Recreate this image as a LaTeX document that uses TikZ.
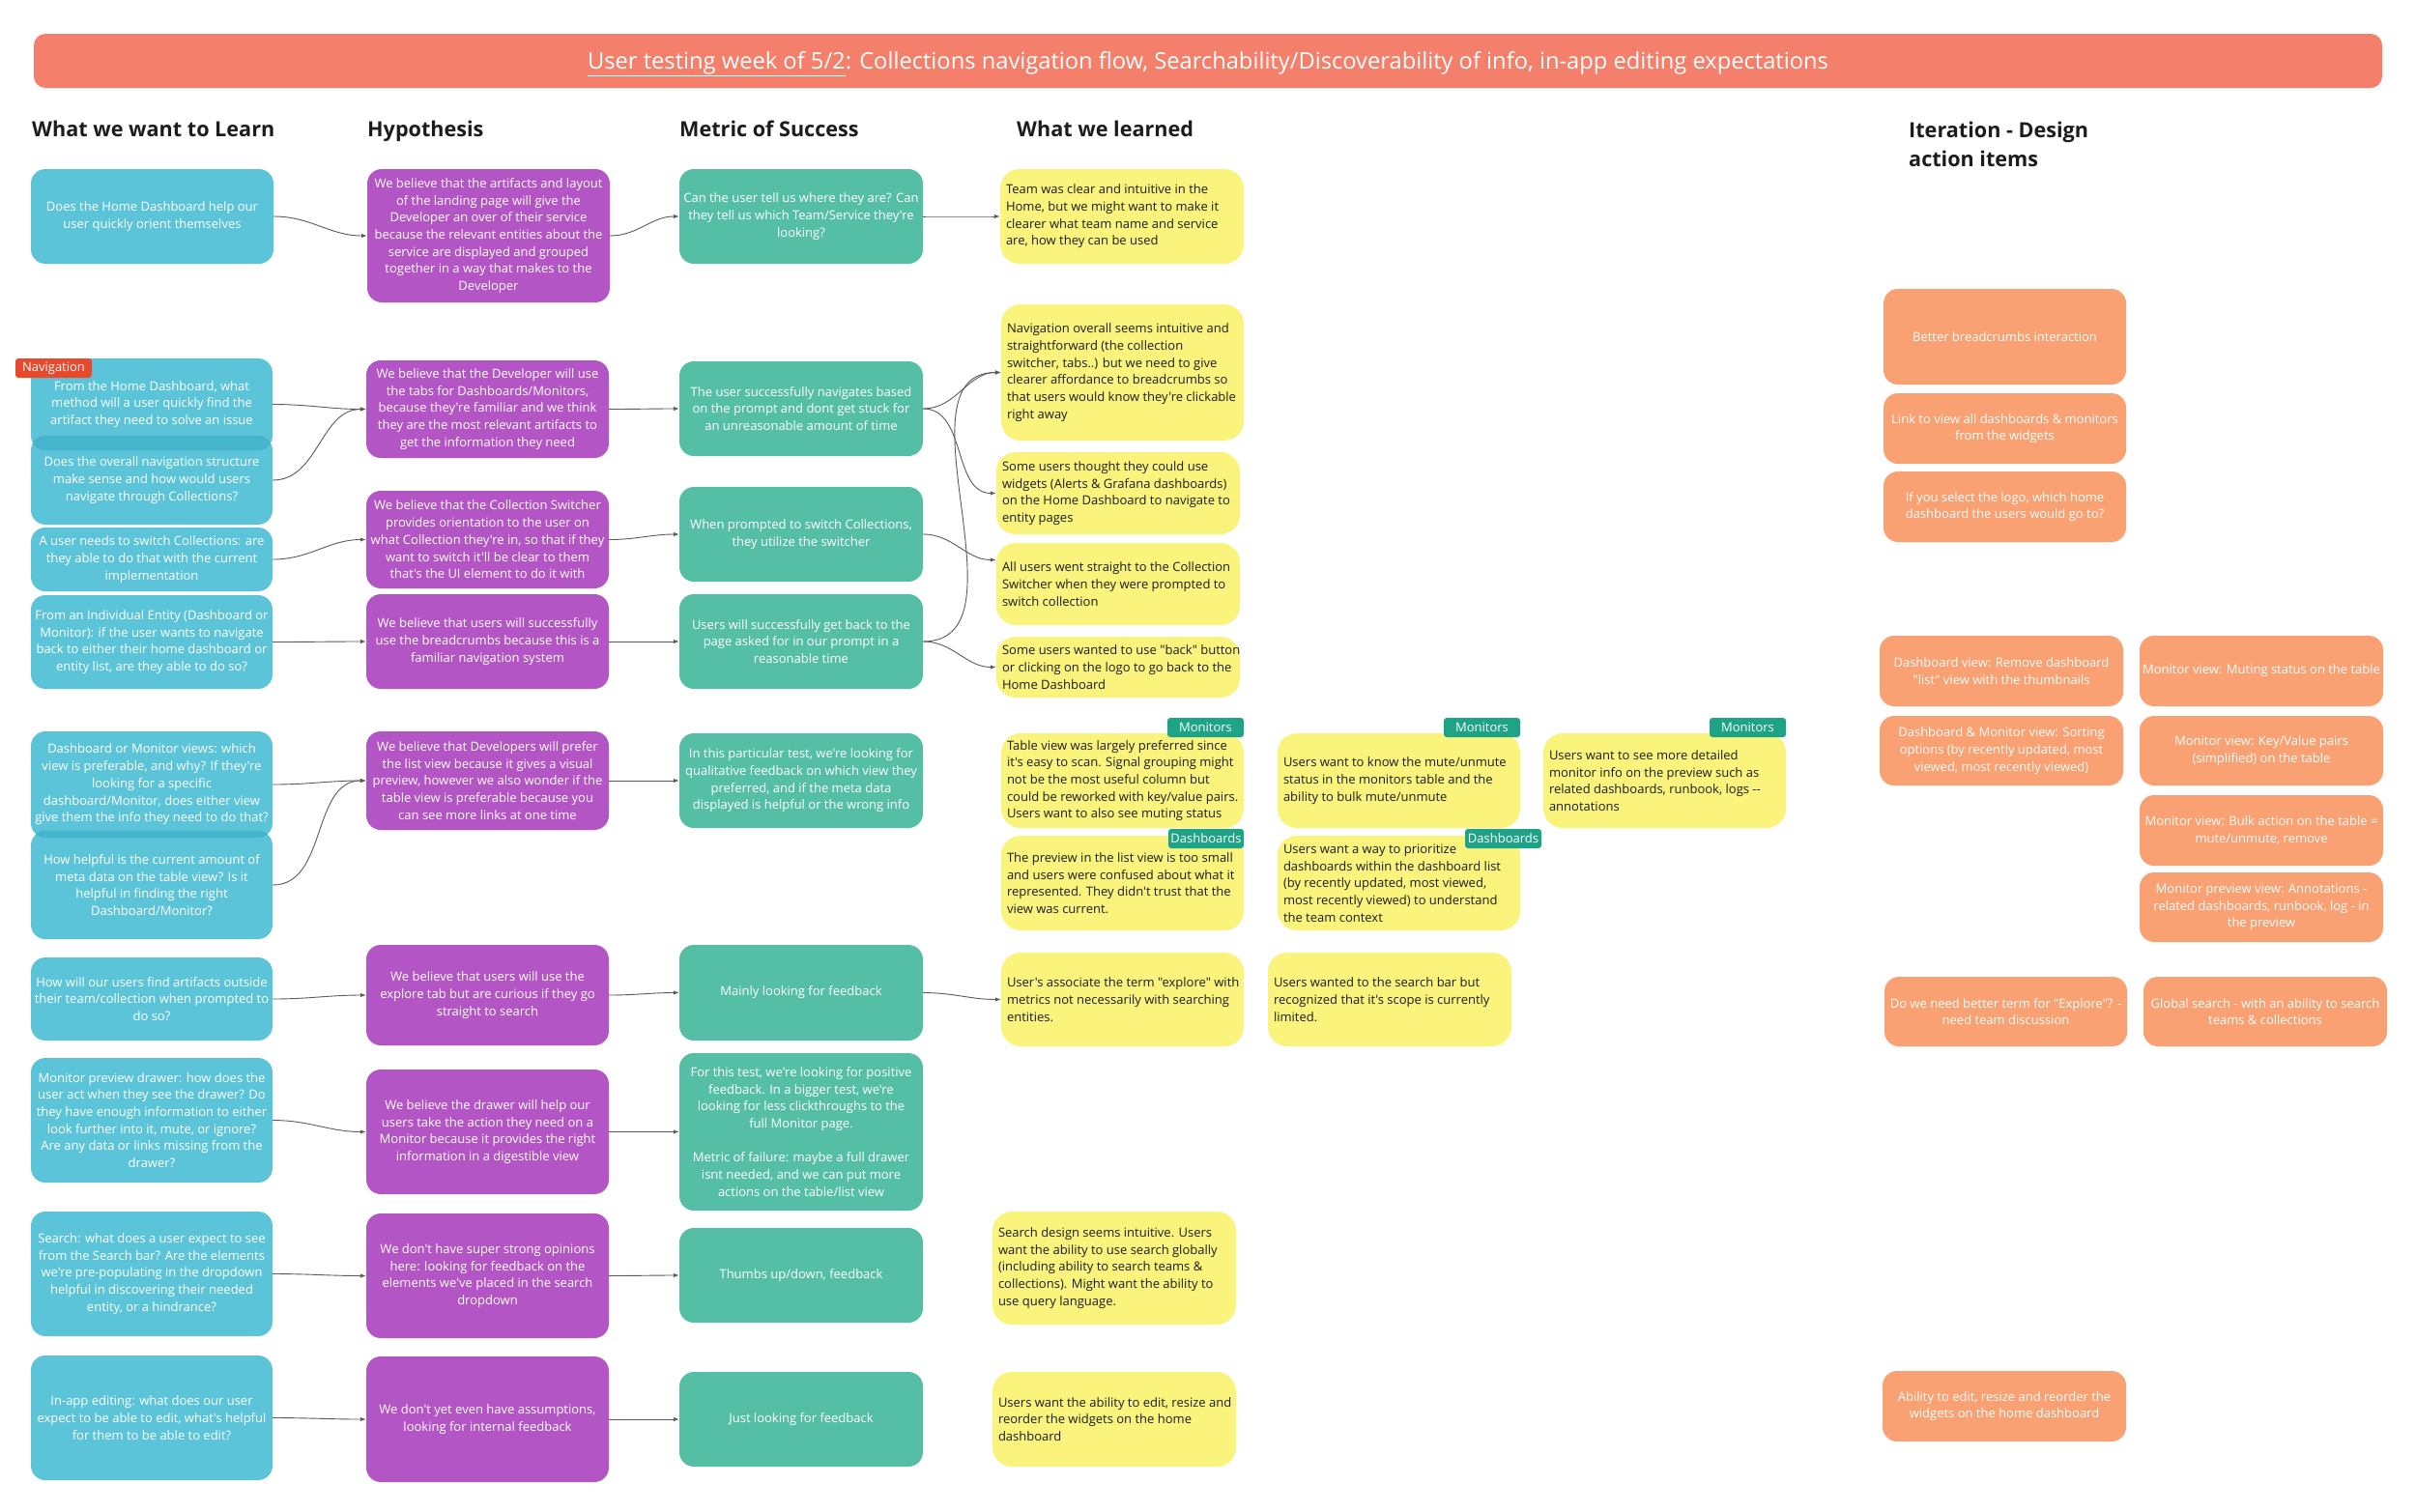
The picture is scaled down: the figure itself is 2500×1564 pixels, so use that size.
\documentclass[tikz,border=0pt]{standalone}
\usepackage{fontspec}
\setmainfont{Open Sans}[Ligatures=TeXOff]
\usetikzlibrary{arrows.meta}
\definecolor{cy}{HTML}{5CC4D9}
\definecolor{cyd}{HTML}{45B5CE}
\definecolor{pu}{HTML}{B455C5}
\definecolor{te}{HTML}{55BFA6}
\definecolor{ye}{HTML}{FAF47C}
\definecolor{orgc}{HTML}{F9A172}
\definecolor{hd}{HTML}{F47F6A}
\definecolor{navc}{HTML}{E8492C}
\definecolor{tg}{HTML}{1FA386}
\definecolor{ln}{HTML}{5A5A5A}
\definecolor{tx}{HTML}{1C1C1C}
\newcommand\bfs{\fontsize{13}{17.7}\selectfont}
% centred box: name, box style, x1, y1, x2, y2, text
\newcommand\bx[7]{%
 \pgfmathsetmacro\bw{#5-#3}\pgfmathsetmacro\bh{#6-#4}%
 \pgfmathsetmacro\bcx{(#3+#5)/2}\pgfmathsetmacro\bcy{(#4+#6)/2}%
 \node[#2, minimum width=\bw pt, minimum height=\bh pt] (#1) at (\bcx,\bcy) {};%
 \node[wt] (#1-t) at (#1.center) {#7};}
% left-aligned (yellow) box
\newcommand\by[6]{%
 \pgfmathsetmacro\bw{#4-#2}\pgfmathsetmacro\bh{#5-#3}%
 \pgfmathsetmacro\bcx{(#2+#4)/2}\pgfmathsetmacro\bcy{(#3+#5)/2}%
 \node[yeb, minimum width=\bw pt, minimum height=\bh pt] (#1) at (\bcx,\bcy) {};%
 \node[dt, anchor=west] (#1-t) at ([xshift=6pt]#1.west) {#6};}
\tikzset{
 box/.style={rectangle, rounded corners=15pt, inner sep=0pt},
 cyb/.style={box, fill=cy},
 pub/.style={box, fill=pu},
 teb/.style={box, fill=te},
 yeb/.style={box, fill=ye, rounded corners=20pt},
 orb/.style={box, fill=orgc},
 tagb/.style={rectangle, rounded corners=3pt, fill=tg, inner sep=0pt},
 navb/.style={rectangle, rounded corners=3pt, fill=navc, inner sep=0pt},
 wt/.style={text=white, font=\bfs, align=center, inner sep=0pt},
 dt/.style={text=tx, font=\bfs, align=left, inner sep=0pt},
 conn/.style={draw=ln, line width=0.9pt, -{Latex[length=6pt,width=4.5pt]}},
 hdr/.style={font=\fontsize{21.6}{29}\selectfont\bfseries, text=tx, anchor=base west, inner sep=0pt}
}
\begin{document}
\begin{tikzpicture}[x=1pt,y=-1pt]
\useasboundingbox (0,0) rectangle (2500,1564);
\fill[white] (0,0) rectangle (2500,1564);
% title bar
\node[box, fill=hd, rounded corners=12pt, minimum width=2430pt, minimum height=56pt] (title) at (1250,63) {};
\node[text=white, font=\fontsize{23.7}{28}\selectfont, anchor=base, inner sep=0pt] (title-t) at (1250,71)
 {\underline{User testing week of 5/2}: Collections navigation flow, Searchability/Discoverability of info, in-app editing expectations};
% column headers
\node[hdr] (h1) at (33,141) {What we want to Learn};
\node[hdr] (h2) at (380,141) {Hypothesis};
\node[hdr] (h3) at (703,141) {Metric of Success};
\node[hdr] (h4) at (1052,141) {What we learned};
\node[hdr] (h5a) at (1975,142) {Iteration - Design};
\node[hdr] (h5b) at (1975,172) {action items};

% ---- row 1
\bx{c1}{cyb}{32}{175}{283}{273}{Does the Home Dashboard help our\\user quickly orient themselves}
\bx{p1}{pub}{380}{175}{631}{313}{We believe that the artifacts and layout\\of the landing page will give the\\Developer an over of their service\\because the relevant entities about the\\service are displayed and grouped\\together in a way that makes to the\\Developer}
\bx{t1}{teb}{703}{175}{955}{273}{Can the user tell us where they are? Can\\they tell us which Team/Service they're\\looking?}
\by{y1}{1035}{175}{1287}{273}{Team was clear and intuitive in the\\Home, but we might want to make it\\clearer what team name and service\\are, how they can be used}

% ---- navigation rows
\bx{c2}{cyb}{32}{371}{282}{466}{From the Home Dashboard, what\\method will a user quickly find the\\artifact they need to solve an issue}
\bx{c3}{cyb}{32}{451}{282}{543}{Does the overall navigation structure\\make sense and how would users\\navigate through Collections?}
\begin{scope}
\clip[rounded corners=15pt] (c2.north west) rectangle (c2.south east);
\fill[cyd, rounded corners=15pt] (c3.north west) rectangle (c3.south east);
\end{scope}
\bx{c4}{cyb}{32}{546}{282}{612}{A user needs to switch Collections: are\\they able to do that with the current\\implementation}
\bx{c5}{cyb}{32}{616}{282}{713}{From an Individual Entity (Dashboard or\\Monitor): if the user wants to navigate\\back to either their home dashboard or\\entity list, are they able to do so?}
\bx{nav}{navb}{16}{371}{95}{391}{Navigation}
\bx{p2}{pub}{379}{373}{630}{474}{We believe that the Developer will use\\the tabs for Dashboards/Monitors,\\because they're familiar and we think\\they are the most relevant artifacts to\\get the information they need}
\bx{p3}{pub}{379}{508}{630}{609}{We believe that the Collection Switcher\\provides orientation to the user on\\what Collection they're in, so that if they\\want to switch it'll be clear to them\\that's the UI element to do it with}
\bx{p4}{pub}{379}{615}{630}{713}{We believe that users will successfully\\use the breadcrumbs because this is a\\familiar navigation system}
\bx{t2}{teb}{703}{374}{955}{472}{The user successfully navigates based\\on the prompt and dont get stuck for\\an unreasonable amount of time}
\bx{t3}{teb}{703}{504}{955}{602}{When prompted to switch Collections,\\they utilize the switcher}
\bx{t4}{teb}{703}{615}{955}{713}{Users will successfully get back to the\\page asked for in our prompt in a\\reasonable time}
\by{y2}{1036}{315}{1287}{456}{Navigation overall seems intuitive and\\straightforward (the collection\\switcher, tabs..) but we need to give\\clearer affordance to breadcrumbs so\\that users would know they're clickable\\right away}
\by{y3}{1031}{468}{1283}{553}{Some users thought they could use\\widgets (Alerts \& Grafana dashboards)\\on the Home Dashboard to navigate to\\entity pages}
\by{y4}{1031}{562}{1283}{647}{All users went straight to the Collection\\Switcher when they were prompted to\\switch collection}
\by{y5}{1031}{659}{1283}{722}{Some users wanted to use "back" button\\or clicking on the logo to go back to the\\Home Dashboard}

% ---- views rows
\bx{c6}{cyb}{32}{757}{282}{867}{Dashboard or Monitor views: which\\view is preferable, and why? If they're\\looking for a specific\\dashboard/Monitor, does either view\\give them the info they need to do that?}
\bx{c7}{cyb}{32}{860}{282}{972}{How helpful is the current amount of\\meta data on the table view? Is it\\helpful in finding the right\\Dashboard/Monitor?}
\begin{scope}
\clip[rounded corners=15pt] (c6.north west) rectangle (c6.south east);
\fill[cyd, rounded corners=15pt] (c7.north west) rectangle (c7.south east);
\end{scope}
\bx{p5}{pub}{379}{757}{630}{859}{We believe that Developers will prefer\\the list view because it gives a visual\\preview, however we also wonder if the\\table view is preferable because you\\can see more links at one time}
\bx{t5}{teb}{703}{759}{955}{857}{In this particular test, we're looking for\\qualitative feedback on which view they\\preferred, and if the meta data\\displayed is helpful or the wrong info}
\by{ya}{1036}{759}{1287}{857}{Table view was largely preferred since\\it's easy to scan. Signal grouping might\\not be the most useful column but\\could be reworked with key/value pairs.\\Users want to also see muting status}
\bx{ya-tag}{tagb}{1208}{743}{1287}{763}{Monitors}
\by{yb}{1322}{759}{1573}{857}{Users want to know the mute/unmute\\status in the monitors table and the\\ability to bulk mute/unmute}
\bx{yb-tag}{tagb}{1494}{743}{1573}{763}{Monitors}
\by{yc}{1597}{759}{1848}{857}{Users want to see more detailed\\monitor info on the preview such as\\related dashboards, runbook, logs --\\annotations}
\bx{yc-tag}{tagb}{1769}{743}{1848}{763}{Monitors}
\by{yd}{1036}{865}{1287}{963}{The preview in the list view is too small\\and users were confused about what it\\represented. They didn't trust that the\\view was current.}
\bx{yd-tag}{tagb}{1209}{858}{1287}{878}{Dashboards}
\by{ye}{1322}{865}{1573}{963}{Users want a way to prioritize\\dashboards within the dashboard list\\(by recently updated, most viewed,\\most recently viewed) to understand\\the team context}
\bx{ye-tag}{tagb}{1516}{858}{1595}{878}{Dashboards}

% ---- explore row
\bx{c8}{cyb}{32}{991}{282}{1077}{How will our users find artifacts outside\\their team/collection when prompted to\\do so?}
\bx{p6}{pub}{379}{978}{630}{1082}{We believe that users will use the\\explore tab but are curious if they go\\straight to search}
\bx{t6}{teb}{703}{978}{955}{1077}{Mainly looking for feedback}
\by{yf}{1036}{986}{1287}{1083}{User's associate the term "explore" with\\metrics not necessarily with searching\\entities.}
\by{yg}{1312}{986}{1564}{1083}{Users wanted to the search bar but\\recognized that it's scope is currently\\limited.}

% ---- drawer row
\bx{c9}{cyb}{32}{1095}{282}{1224}{Monitor preview drawer: how does the\\user act when they see the drawer? Do\\they have enough information to either\\look further into it, mute, or ignore?\\Are any data or links missing from the\\drawer?}
\bx{p7}{pub}{379}{1107}{630}{1236}{We believe the drawer will help our\\users take the action they need on a\\Monitor because it provides the right\\information in a digestible view}
\bx{t7}{teb}{703}{1090}{955}{1253}{For this test, we're looking for positive\\feedback. In a bigger test, we're\\looking for less clickthroughs to the\\full Monitor page.\\[17.7pt]Metric of failure: maybe a full drawer\\isnt needed, and we can put more\\actions on the table/list view}

% ---- search row
\bx{c10}{cyb}{32}{1254}{282}{1383}{Search: what does a user expect to see\\from the Search bar? Are the elements\\we're pre-populating in the dropdown\\helpful in discovering their needed\\entity, or a hindrance?}
\bx{p8}{pub}{379}{1256}{630}{1385}{We don't have super strong opinions\\here: looking for feedback on the\\elements we've placed in the search\\dropdown}
\bx{t8}{teb}{703}{1271}{955}{1369}{Thumbs up/down, feedback}
\by{yh}{1027}{1254}{1279}{1371}{Search design seems intuitive. Users\\want the ability to use search globally\\(including ability to search teams \&\\collections). Might want the ability to\\use query language.}

% ---- editing row
\bx{c11}{cyb}{32}{1403}{282}{1532}{In-app editing: what does our user\\expect to be able to edit, what's helpful\\for them to be able to edit?}
\bx{p9}{pub}{379}{1404}{630}{1534}{We don't yet even have assumptions,\\looking for internal feedback}
\bx{t9}{teb}{703}{1420}{955}{1518}{Just looking for feedback}
\by{yi}{1027}{1420}{1279}{1518}{Users want the ability to edit, resize and\\reorder the widgets on the home\\dashboard}

% ---- iteration items
\bx{o1}{orb}{1949}{299}{2200}{398}{Better breadcrumbs interaction}
\bx{o2}{orb}{1949}{407}{2200}{480}{Link to view all dashboards \& monitors\\from the widgets}
\bx{o3}{orb}{1949}{488}{2200}{561}{If you select the logo, which home\\dashboard the users would go to?}
\bx{o4}{orb}{1945}{658}{2197}{731}{Dashboard view: Remove dashboard\\"list" view with the thumbnails}
\bx{o5}{orb}{2214}{658}{2466}{731}{Monitor view: Muting status on the table}
\bx{o6}{orb}{1945}{741}{2197}{813}{Dashboard \& Monitor view: Sorting\\options (by recently updated, most\\viewed, most recently viewed)}
\bx{o7}{orb}{2214}{741}{2466}{813}{Monitor view: Key/Value pairs\\(simplified) on the table}
\bx{o8}{orb}{2214}{823}{2466}{896}{Monitor view: Bulk action on the table =\\mute/unmute, remove}
\bx{o9}{orb}{2214}{903}{2466}{975}{Monitor preview view: Annotations -\\related dashboards, runbook, log - in\\the preview}
\bx{o10}{orb}{1950}{1011}{2201}{1083}{Do we need better term for "Explore"? -\\need team discussion}
\bx{o11}{orb}{2218}{1011}{2470}{1083}{Global search - with an ability to search\\teams \& collections}
\bx{o12}{orb}{1948}{1419}{2200}{1492}{Ability to edit, resize and reorder the\\widgets on the home dashboard}

% ---- connectors
\draw[conn] (c1.east) to[out=0,in=180] (p1.west);
\draw[conn] (p1.east) to[out=0,in=180] (t1.west);
\draw[conn] (t1.east) to[out=0,in=180] (y1.west);
\draw[conn] (c2.east) to[out=0,in=180] (p2.west);
\draw[conn] (c3.east) to[out=0,in=180] (p2.west);
\draw[conn] (p2.east) to[out=0,in=180] (t2.west);
\draw[conn] (t2.east) to[out=0,in=180] (y2.west);
\draw[conn] (t2.east) to[out=0,in=180] (y3.west);
\draw[conn] (c4.east) to[out=0,in=180] (p3.west);
\draw[conn] (p3.east) to[out=0,in=180] (t3.west);
\draw[conn] (t3.east) to[out=0,in=180] ([yshift=25pt]y4.west);
\draw[conn] (c5.east) to[out=0,in=180] (p4.west);
\draw[conn] (p4.east) to[out=0,in=180] (t4.west);
\draw[conn] (t4.east) to[out=0,in=180] (y5.west);
\draw[conn] (t4.east) to[out=0,in=180] (y2.west);
\draw[conn] (c6.east) to[out=0,in=180] (p5.west);
\draw[conn] (c7.east) to[out=0,in=180] (p5.west);
\draw[conn] (p5.east) to[out=0,in=180] (t5.west);
\draw[conn] (c8.east) to[out=0,in=180] (p6.west);
\draw[conn] (p6.east) to[out=0,in=180] (t6.west);
\draw[conn] (t6.east) to[out=0,in=180] (yf.west);
\draw[conn] (c9.east) to[out=0,in=180] (p7.west);
\draw[conn] (p7.east) to[out=0,in=180] (t7.west);
\draw[conn] (c10.east) to[out=0,in=180] (p8.west);
\draw[conn] (p8.east) to[out=0,in=180] (t8.west);
\draw[conn] (c11.east) to[out=0,in=180] (p9.west);
\draw[conn] (p9.east) to[out=0,in=180] (t9.west);
\end{tikzpicture}
\end{document}
